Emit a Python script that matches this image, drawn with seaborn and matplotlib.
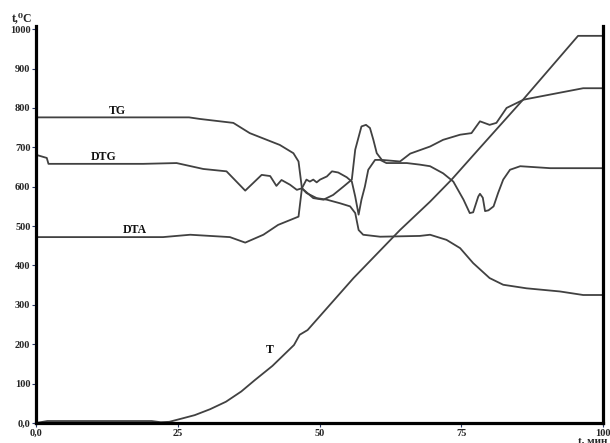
import matplotlib
matplotlib.use("Agg")
import pandas as pd
import seaborn as sns
from matplotlib import pyplot as plt

# curves (time in min, values on the t,°C scale)
t_time = [0, 2, 10, 20.4, 22, 23.5, 25.9, 28, 30.7, 33.5, 36.2, 38.6, 41.7, 45.5,
          46.5, 47.9, 56, 64.2, 69.5, 73.3, 78, 85.9, 95.6, 100]
t_vals = [0, 5, 5, 5, 2, 3, 12, 20, 35, 54, 80, 109, 145, 198,
          224, 236, 368, 490, 562, 618, 694, 821, 983, 983]

tg_time = [0, 27, 28.9, 34.8, 37.7, 40.7, 43, 45.4, 46.3, 46.9, 47.7, 49.5, 51.3,
           53.6, 55.4, 56.3, 56.9, 57.7, 60.7, 67.7, 69.5, 72.4, 74.8, 77.1, 80,
           82.4, 86.5, 92.4, 96.5, 100]
tg_vals = [776, 776, 772, 762, 736, 719, 706, 685, 664, 596, 584, 571, 567,
           558, 550, 533, 490, 478, 473, 475, 478, 465, 444, 406, 368,
           351, 342, 334, 325, 325]

dtg_time = [0, 1.9, 2.2, 18.9, 24.8, 29.5, 33.6, 36.9, 39.8, 41.3, 42.4, 43.3,
            44.8, 46, 46.9, 47.7, 48.3, 48.9, 49.5, 50.1, 51.3, 52.2, 53.3, 54.8,
            55.7, 56.3, 56.9, 57.4, 58, 58.6, 59.8, 60.7, 61.8, 65.4, 67.7, 69.5,
            71.8, 73.6, 75.4, 76.5, 77.1, 78, 78.3, 78.8, 79.2, 79.8, 80.7, 81.5,
            82.4, 83.6, 85.4, 90.7, 100]
dtg_vals = [681, 673, 658, 658, 660, 645, 639, 590, 630, 627, 602, 617,
            605, 592, 596, 618, 613, 618, 611, 618, 626, 639, 636, 624,
            613, 575, 529, 567, 600, 643, 668, 668, 660, 660, 656, 652,
            634, 613, 567, 533, 535, 575, 582, 572, 538, 540, 550, 584,
            618, 643, 652, 647, 647]

dta_time = [0, 22.4, 27.2, 34.2, 36.9, 40.1, 42.7, 46.3, 46.9, 48.9, 50.7, 52.4,
            54.2, 55.7, 56.3, 57.4, 58.2, 58.9, 59.5, 60.1, 61, 64.2, 66, 69.5,
            71.8, 74.8, 76.8, 78.3, 80, 81.2, 83, 86, 90.7, 96.5, 100]
dta_vals = [472, 472, 478, 472, 458, 478, 503, 524, 596, 571, 567, 579,
            600, 618, 694, 753, 757, 749, 719, 685, 668, 664, 684, 702,
            719, 732, 736, 766, 757, 762, 800, 821, 834, 850, 850]

y_ticks = [0, 100, 200, 300, 400, 500, 600, 700, 800, 900, 1000]
y_labels = ["0,0", "100", "200", "300", "400", "500", "600", "700", "800", "900", "1000"]
x_ticks = [0, 25, 50, 75, 100]
x_labels = ["0,0", "25", "50", "75", "100"]

curves = {
    "T": (t_time, t_vals),
    "TG": (tg_time, tg_vals),
    "DTG": (dtg_time, dtg_vals),
    "DTA": (dta_time, dta_vals),
}

sns.set_style("white")
plt.rcParams["font.family"] = ["Liberation Serif", "DejaVu Serif"]
plt.rcParams["font.weight"] = "bold"

fig = plt.figure(figsize=(6.10, 4.43), dpi=100)
ax = fig.add_axes([36 / 610, 1 - 423 / 443, 567 / 610, 397 / 443])

line_color = "#414141"
for name, (xs, ys) in curves.items():
    df = pd.DataFrame({"time": xs, "val": ys})
    sns.lineplot(data=df, x="time", y="val", ax=ax, sort=False, estimator=None,
                 color=line_color, linewidth=1.3)

ax.set_xlim(0, 100)
ax.set_ylim(0, 1008)
ax.set_xticks(x_ticks)
ax.set_xticklabels(x_labels)
ax.set_yticks(y_ticks)
ax.set_yticklabels(y_labels)
ax.set_xlabel("")
ax.set_ylabel("")
ax.tick_params(axis="both", direction="out", length=3, width=0.8, pad=1,
               labelsize=7.5, color="#2a3a6a", bottom=True, left=True)
for lab in ax.get_xticklabels() + ax.get_yticklabels():
    lab.set_fontweight("bold")

for side in ["left", "bottom", "right"]:
    ax.spines[side].set_visible(True)
    ax.spines[side].set_linewidth(2.3)
    ax.spines[side].set_color("black")
ax.spines["top"].set_visible(False)

# curve labels
txt = dict(fontsize=8.5, fontweight="bold", ha="center", va="center", color="#111111")
ax.text(14.3, 793, "TG", **txt)
ax.text(11.9, 675, "DTG", **txt)
ax.text(17.5, 490, "DTA", **txt)
ax.text(41.3, 185, "T", **txt)

fig.text(21.7 / 610, 1 - 18.3 / 443, "t,⁰C", fontsize=8.5, fontweight="bold",
         ha="center", va="center")
fig.text(578 / 610, 1 - 441 / 443, "t, мин", fontsize=8, fontweight="bold",
         ha="left", va="center")

fig.savefig("out.png", dpi=100)
